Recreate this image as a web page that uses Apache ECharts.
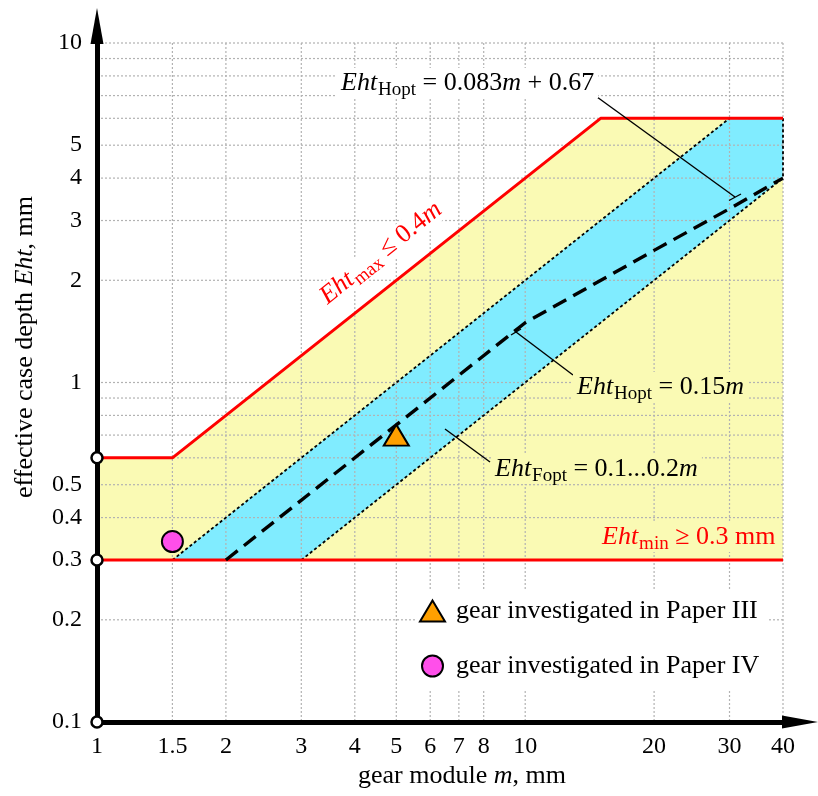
<!DOCTYPE html>
<html><head><meta charset="utf-8">
<script src="https://cdn.jsdelivr.net/npm/echarts@6/dist/echarts.min.js"></script>
<style>html,body{margin:0;padding:0;background:#fff}#c{width:818px;height:796px}</style>
</head><body><div id="c"></div>
<script>
// ---- data ----
const xTicks = [1, 1.5, 2, 3, 4, 5, 6, 7, 8, 10, 20, 30, 40];
const yTicks = [0.1, 0.2, 0.3, 0.4, 0.5, 1, 2, 3, 4, 5, 10];
const xGrid = [1.5, 2, 3, 4, 5, 6, 7, 8, 10, 20, 30, 40];
const yGrid = [0.2, 0.3, 0.4, 0.5, 0.6, 0.7, 0.8, 0.9, 1, 2, 3, 4, 5, 6, 7, 8, 9, 10];
const axisCircles = [[1, 0.1], [1, 0.3], [1, 0.6]];
const ehtMax = [[1, 0.6], [1.5, 0.6], [15, 6], [40, 6]];
const ehtMin = [[1, 0.3], [40, 0.3]];
const foptUpper = [[1.5, 0.3], [30, 6]];
const foptLower = [[3, 0.3], [40, 4]];
const foptRight = [[40, 6], [40, 4]];
const hopt = [[2, 0.3], [10, 1.5], [20, 2.45], [30, 3.25], [40, 4.0]];
const paper3 = [[5, 0.7]];
const paper4 = [[1.5, 0.34]];
const xRange = [1, 40];
const yRange = [0.1, 10];

// ---- styles ----
const F = '"Liberation Serif","Times New Roman",serif';
const RED = '#ff0000';
const YELLOW = '#fafab4';
const CYAN = '#80ecff';
const GRID = '#b2b2b2';

const yellowPoly = ehtMax.concat(ehtMin.slice().reverse());
const cyanPoly = foptUpper.concat(foptRight, foptLower.slice().reverse());

function richSet(size, subSize, color, pad) {
  return {
    i: {font: 'italic ' + size + 'px ' + F, fill: color, color: color, lineHeight: size, verticalAlign: 'middle'},
    n: {font: size + 'px ' + F, fill: color, color: color, lineHeight: size, verticalAlign: 'middle'},
    s: {font: subSize + 'px ' + F, fill: color, color: color, lineHeight: subSize, padding: [pad, 0, 0, 1], verticalAlign: 'middle'}
  };
}
function txt(x, y, text, rich, extra) {
  const st = Object.assign({
    text: text, rich: rich, align: 'left', verticalAlign: 'middle',
    textAlign: 'left', textVerticalAlign: 'middle'
  }, (extra && extra.style) || {});
  return Object.assign({type: 'text', x: x, y: y, z: 10, silent: true, style: st}, (extra && extra.el) || {});
}
function seg(x1, y1, x2, y2) {
  return {type: 'line', z: 9, silent: true, shape: {x1: x1, y1: y1, x2: x2, y2: y2}, style: {stroke: '#000', lineWidth: 1.4}};
}
function poly(pts, color) {
  return {
    type: 'custom', z: 1, silent: true, clip: false, data: pts,
    renderItem: function (params, api) {
      if (params.dataIndex !== 0) return null;
      return {type: 'polygon', shape: {points: pts.map(function (p) { return api.coord(p); })}, style: {fill: color}};
    }
  };
}
function lineSeries(data, color, width, dash) {
  return {
    type: 'line', data: data, z: 3, silent: true, clip: false, symbol: 'none', showSymbol: false,
    lineStyle: {color: color, width: width, type: dash || 'solid'}
  };
}

const blackRich = richSet(26, 19, '#000', 14);
const redRich = richSet(26, 19, RED, 14);
const plainRich = {
  n: {font: '26px ' + F, fill: '#000', color: '#000', lineHeight: 26},
  i: {font: 'italic 26px ' + F, fill: '#000', color: '#000', lineHeight: 26}
};

const option = {
  animation: false,
  grid: {left: 97, top: 43, width: 686, height: 679, containLabel: false, outerBoundsMode: 'none'},
  xAxis: {
    type: 'log', logBase: 10, min: xRange[0], max: xRange[1], z: 5,
    axisLine: {show: true, lineStyle: {color: '#000', width: 5}, symbol: ['none', 'triangle'], symbolSize: [13, 36], symbolOffset: [0, 17]},
    axisTick: {show: false}, axisLabel: {show: false}, splitLine: {show: false}, minorSplitLine: {show: false}
  },
  yAxis: {
    type: 'log', logBase: 10, min: yRange[0], max: yRange[1], z: 5,
    axisLine: {show: true, lineStyle: {color: '#000', width: 5}, symbol: ['none', 'triangle'], symbolSize: [13, 36], symbolOffset: [0, 17]},
    axisTick: {show: false}, axisLabel: {show: false}, splitLine: {show: false}, minorSplitLine: {show: false}
  },
  legend: {
    data: [
      {name: 'gear investigated in Paper III', icon: 'triangle', itemStyle: {color: '#ffa000', borderColor: '#000', borderWidth: 2}},
      {name: 'gear investigated in Paper IV', icon: 'circle', itemStyle: {color: '#ff4fea', borderColor: '#000', borderWidth: 2}}
    ],
    orient: 'vertical', left: 415, top: 590, itemWidth: 25, itemHeight: 21, itemGap: 29,
    padding: [8, 8, 10, 4], backgroundColor: '#fff', selectedMode: false, z: 7,
    textStyle: {fontFamily: F, fontSize: 26, color: '#000', lineHeight: 26, padding: [0, 0, 0, 6]}
  },
  series: [
    poly(yellowPoly, YELLOW),
    poly(cyanPoly, CYAN),
    {
      type: 'custom', z: 2, silent: true, clip: false,
      data: xGrid.map(function (v) { return [v, 1]; }),
      renderItem: function (params, api) {
        const p = api.coord([api.value(0), api.value(1)]);
        const cs = params.coordSys;
        return {type: 'line', shape: {x1: p[0], y1: cs.y, x2: p[0], y2: cs.y + cs.height},
          style: {stroke: GRID, lineWidth: 1.2, lineDash: [2, 2]}};
      }
    },
    {
      type: 'custom', z: 2, silent: true, clip: false,
      data: yGrid.map(function (v) { return [1, v]; }),
      renderItem: function (params, api) {
        const p = api.coord([api.value(0), api.value(1)]);
        const cs = params.coordSys;
        return {type: 'line', shape: {x1: cs.x, y1: p[1], x2: cs.x + cs.width, y2: p[1]},
          style: {stroke: GRID, lineWidth: 1.2, lineDash: [2, 2]}};
      }
    },
    lineSeries(foptUpper, '#000', 1.8, [3, 2.5]),
    lineSeries(foptLower, '#000', 1.8, [3, 2.5]),
    lineSeries(foptRight, '#000', 1.8, [3, 2.5]),
    lineSeries(ehtMin, RED, 3),
    lineSeries(ehtMax, RED, 3),
    lineSeries(hopt, '#000', 3.4, [15, 8]),
    {
      name: 'gear investigated in Paper III', type: 'scatter', z: 4, data: paper3, symbol: 'triangle',
      symbolSize: [25, 21], itemStyle: {color: '#ffa000', borderColor: '#000', borderWidth: 2, opacity: 1}
    },
    {
      name: 'gear investigated in Paper IV', type: 'scatter', z: 4, data: paper4, symbol: 'circle',
      symbolSize: 21, itemStyle: {color: '#ff4fea', borderColor: '#000', borderWidth: 2, opacity: 1}
    },
    {
      type: 'scatter', z: 6, zlevel: 0, clip: false, silent: true, data: axisCircles, symbol: 'circle',
      symbolSize: 11, itemStyle: {color: '#fff', borderColor: '#000', borderWidth: 2.5, opacity: 1}
    },
    {
      type: 'custom', z: 6, silent: true, clip: false,
      data: xTicks.map(function (v) { return [v, yRange[0]]; }),
      renderItem: function (params, api) {
        const v = api.value(0);
        const p = api.coord([v, api.value(1)]);
        return {type: 'text', x: p[0], y: p[1] + 25, style: {text: String(v), font: '24px ' + F, fill: '#000',
          align: 'center', verticalAlign: 'middle', textAlign: 'center', textVerticalAlign: 'middle'}};
      }
    },
    {
      type: 'custom', z: 6, silent: true, clip: false,
      data: yTicks.map(function (v) { return [xRange[0], v]; }),
      renderItem: function (params, api) {
        const v = api.value(1);
        const p = api.coord([api.value(0), v]);
        return {type: 'text', x: p[0] - 15, y: p[1], style: {text: String(v), font: '24px ' + F, fill: '#000',
          align: 'right', verticalAlign: 'middle', textAlign: 'right', textVerticalAlign: 'middle'}};
      }
    }
  ],
  graphic: {elements: [
    // axis titles
    txt(462, 776, '{n|gear module }{i|m}{n|, mm}', plainRich, {style: {align: 'center', textAlign: 'center'}}),
    txt(25, 347, '{n|effective case depth }{i|Eht}{n|, mm}', plainRich, {style: {align: 'center', textAlign: 'center'}, el: {rotation: Math.PI / 2}}),
    // annotations
    txt(337, 83, '{i|Eht}{s|Hopt}{n| = 0.083}{i|m}{n| + 0.67}', blackRich, {style: {backgroundColor: '#fff', padding: [2, 4, 2, 4]}}),
    txt(573, 387, '{i|Eht}{s|Hopt}{n| = 0.15}{i|m}', blackRich, {style: {backgroundColor: YELLOW, padding: [2, 4, 2, 4]}}),
    txt(491, 469, '{i|Eht}{s|Fopt}{n| = 0.1...0.2}{i|m}', blackRich, {style: {backgroundColor: YELLOW, padding: [2, 4, 2, 4]}}),
    txt(598, 537, '{i|Eht}{s|min}{n| ≥ 0.3 mm}', redRich, {style: {backgroundColor: YELLOW, padding: [2, 4, 2, 4]}}),
    txt(381, 253, '{i|Eht}{s|max}{n| ≤ 0.4}{i|m}', redRich, {style: {align: 'center', textAlign: 'center', backgroundColor: '#fff', padding: [0, 3, 0, 3]}, el: {rotation: 0.676}}),
    // leader lines
    seg(597, 97, 735, 197), seg(729, 200.5, 741, 194),
    seg(573, 375, 516, 332), seg(511, 335, 521, 329),
    seg(490, 462, 445, 429)
  ]}
};

const chart = echarts.init(document.getElementById('c'), null, {renderer: 'canvas'});
chart.setOption(option);
</script>
</body></html>
